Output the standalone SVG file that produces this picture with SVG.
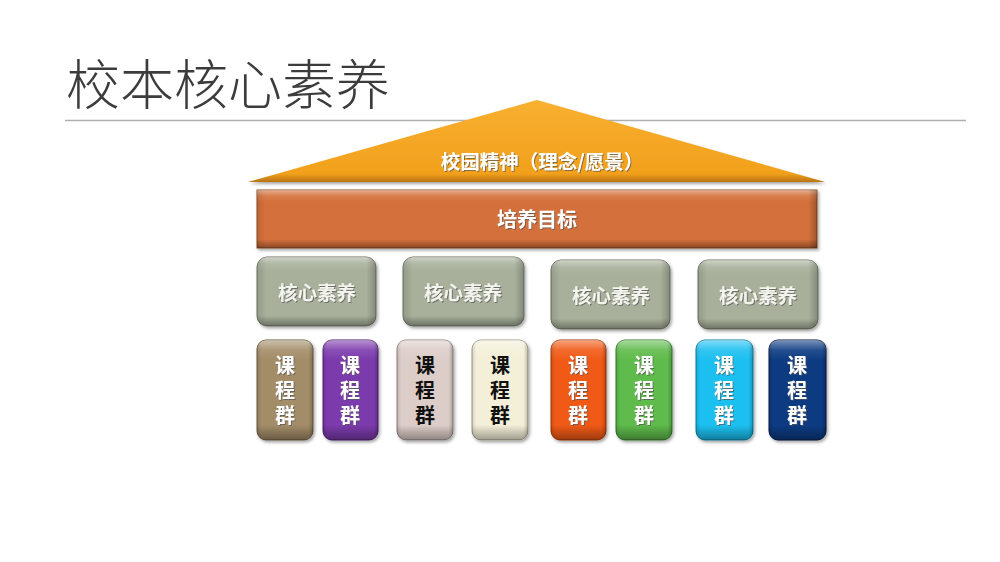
<svg xmlns="http://www.w3.org/2000/svg" width="1000" height="562" viewBox="0 0 1000 562">
<style>
.title{font-family:"Noto Sans CJK SC","Noto Sans",sans-serif;font-size:54px;fill:#3c3c3c;font-weight:300}
.lbl{font-family:"Noto Sans CJK SC","Liberation Sans",sans-serif;font-weight:bold;text-anchor:middle}
.w{fill:#ffffff}
.k{fill:#111111}
.core{fill:#f4f4ee;font-size:19.5px}
.crs{font-size:20px;writing-mode:tb;letter-spacing:5px}
</style>
<defs>
<linearGradient id="bv" x1="0" y1="0" x2="0" y2="1">
<stop offset="0" stop-color="#fff" stop-opacity="0.45"/>
<stop offset="0.1" stop-color="#fff" stop-opacity="0.1"/>
<stop offset="0.2" stop-color="#fff" stop-opacity="0"/>
<stop offset="0.85" stop-color="#000" stop-opacity="0"/>
<stop offset="1" stop-color="#000" stop-opacity="0.35"/>
</linearGradient>
<linearGradient id="bh" x1="0" y1="0" x2="1" y2="0">
<stop offset="0" stop-color="#000" stop-opacity="0.12"/>
<stop offset="0.08" stop-color="#000" stop-opacity="0"/>
<stop offset="0.92" stop-color="#000" stop-opacity="0"/>
<stop offset="1" stop-color="#000" stop-opacity="0.22"/>
</linearGradient>
<linearGradient id="bh2" x1="0" y1="0" x2="1" y2="0">
<stop offset="0" stop-color="#000" stop-opacity="0.1"/>
<stop offset="0.015" stop-color="#000" stop-opacity="0"/>
<stop offset="0.985" stop-color="#000" stop-opacity="0"/>
<stop offset="1" stop-color="#000" stop-opacity="0.25"/>
</linearGradient>
<linearGradient id="tri" x1="0" y1="0" x2="0" y2="1">
<stop offset="0" stop-color="#f8b030"/>
<stop offset="0.9" stop-color="#f2a01c"/>
<stop offset="1" stop-color="#b87410"/>
</linearGradient>
<filter id="sh" x="-10%" y="-10%" width="130%" height="130%">
<feDropShadow dx="1.5" dy="2" stdDeviation="1.5" flood-color="#000" flood-opacity="0.35"/>
</filter>
<filter id="ts" x="-20%" y="-10%" width="140%" height="130%">
<feDropShadow dx="1" dy="1" stdDeviation="0.6" flood-color="#555" flood-opacity="0.7"/>
</filter>
</defs>

<g id="title">
<text class="title" x="66" y="105">校本核心素养</text>
<line x1="65" y1="120.5" x2="966" y2="120.5" stroke="#b0b0b0" stroke-width="1.5"/>
</g>

<g id="roof">
<polygon points="537,100 825,182 248,182" fill="url(#tri)" filter="url(#sh)"/>
<text class="lbl w" x="542" y="169" font-size="19.5" filter="url(#ts)">校园精神（理念/愿景）</text>
</g>

<g id="goal">
<rect x="257" y="190" width="560" height="58" fill="#d4703a" stroke="#8a4a24" stroke-width="1" filter="url(#sh)"/>
<rect x="257" y="190" width="560" height="58" fill="url(#bv)"/>
<rect x="257" y="190" width="560" height="58" fill="url(#bh2)"/>
<text class="lbl w" x="537" y="227" font-size="20" filter="url(#ts)">培养目标</text>
</g>

<g id="core1">
<rect x="257" y="257" width="119" height="69" rx="10" fill="#a8b09b" stroke="#6e7562" filter="url(#sh)"/>
<rect x="257" y="257" width="119" height="69" rx="10" fill="url(#bv)"/>
<rect x="257" y="257" width="119" height="69" rx="10" fill="url(#bh)"/>
<text class="lbl core" x="317" y="300" filter="url(#ts)">核心素养</text>
</g>
<g id="core2">
<rect x="403" y="257" width="121" height="69" rx="10" fill="#a8b09b" stroke="#6e7562" filter="url(#sh)"/>
<rect x="403" y="257" width="121" height="69" rx="10" fill="url(#bv)"/>
<rect x="403" y="257" width="121" height="69" rx="10" fill="url(#bh)"/>
<text class="lbl core" x="463" y="300" filter="url(#ts)">核心素养</text>
</g>
<g id="core3">
<rect x="551" y="260" width="119" height="69" rx="10" fill="#a8b09b" stroke="#6e7562" filter="url(#sh)"/>
<rect x="551" y="260" width="119" height="69" rx="10" fill="url(#bv)"/>
<rect x="551" y="260" width="119" height="69" rx="10" fill="url(#bh)"/>
<text class="lbl core" x="611" y="303" filter="url(#ts)">核心素养</text>
</g>
<g id="core4">
<rect x="698" y="260" width="120" height="69" rx="10" fill="#a8b09b" stroke="#6e7562" filter="url(#sh)"/>
<rect x="698" y="260" width="120" height="69" rx="10" fill="url(#bv)"/>
<rect x="698" y="260" width="120" height="69" rx="10" fill="url(#bh)"/>
<text class="lbl core" x="758" y="303" filter="url(#ts)">核心素养</text>
</g>

<g id="course1">
<rect x="257" y="340" width="56" height="100" rx="9" fill="#a38c68" stroke="#6a5a40" filter="url(#sh)"/>
<rect x="257" y="340" width="56" height="100" rx="9" fill="url(#bv)"/>
<rect x="257" y="340" width="56" height="100" rx="9" fill="url(#bh)"/>
<text class="lbl crs w" x="285" y="393" filter="url(#ts)">课程群</text>
</g>
<g id="course2">
<rect x="323" y="340" width="55" height="100" rx="9" fill="#7c3aad" stroke="#4e2270" filter="url(#sh)"/>
<rect x="323" y="340" width="55" height="100" rx="9" fill="url(#bv)"/>
<rect x="323" y="340" width="55" height="100" rx="9" fill="url(#bh)"/>
<text class="lbl crs w" x="350" y="393" filter="url(#ts)">课程群</text>
</g>
<g id="course3">
<rect x="397" y="340" width="56" height="100" rx="9" fill="#dccdc8" stroke="#8e8480" filter="url(#sh)"/>
<rect x="397" y="340" width="56" height="100" rx="9" fill="url(#bv)"/>
<rect x="397" y="340" width="56" height="100" rx="9" fill="url(#bh)"/>
<text class="lbl crs k" x="425" y="393">课程群</text>
</g>
<g id="course4">
<rect x="472" y="340" width="56" height="100" rx="9" fill="#f3efd8" stroke="#a09c88" filter="url(#sh)"/>
<rect x="472" y="340" width="56" height="100" rx="9" fill="url(#bv)"/>
<rect x="472" y="340" width="56" height="100" rx="9" fill="url(#bh)"/>
<text class="lbl crs k" x="500" y="393">课程群</text>
</g>
<g id="course5">
<rect x="551" y="340" width="55" height="100" rx="9" fill="#f05a18" stroke="#a03a0c" filter="url(#sh)"/>
<rect x="551" y="340" width="55" height="100" rx="9" fill="url(#bv)"/>
<rect x="551" y="340" width="55" height="100" rx="9" fill="url(#bh)"/>
<text class="lbl crs w" x="578" y="393" filter="url(#ts)">课程群</text>
</g>
<g id="course6">
<rect x="616" y="340" width="56" height="100" rx="9" fill="#5ebb4c" stroke="#3a7a2e" filter="url(#sh)"/>
<rect x="616" y="340" width="56" height="100" rx="9" fill="url(#bv)"/>
<rect x="616" y="340" width="56" height="100" rx="9" fill="url(#bh)"/>
<text class="lbl crs w" x="644" y="393" filter="url(#ts)">课程群</text>
</g>
<g id="course7">
<rect x="696" y="340" width="57" height="100" rx="9" fill="#1ec0f0" stroke="#0e7aa0" filter="url(#sh)"/>
<rect x="696" y="340" width="57" height="100" rx="9" fill="url(#bv)"/>
<rect x="696" y="340" width="57" height="100" rx="9" fill="url(#bh)"/>
<text class="lbl crs w" x="724" y="393" filter="url(#ts)">课程群</text>
</g>
<g id="course8">
<rect x="769" y="340" width="57" height="100" rx="9" fill="#0d3a82" stroke="#061c44" filter="url(#sh)"/>
<rect x="769" y="340" width="57" height="100" rx="9" fill="url(#bv)"/>
<rect x="769" y="340" width="57" height="100" rx="9" fill="url(#bh)"/>
<text class="lbl crs w" x="797" y="393" filter="url(#ts)">课程群</text>
</g>
</svg>
